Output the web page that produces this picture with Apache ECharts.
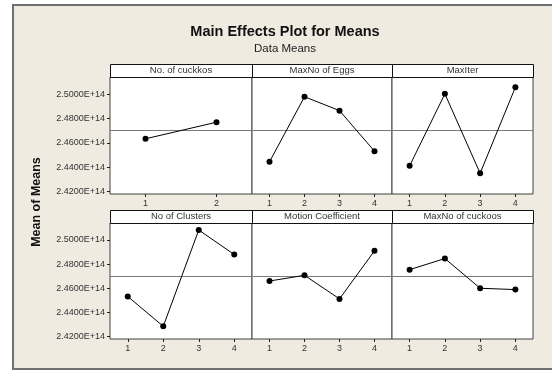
<!DOCTYPE html>
<html><head><meta charset="utf-8">
<script src="https://cdn.jsdelivr.net/npm/echarts@6/dist/echarts.min.js"></script>
<style>html,body{margin:0;padding:0;background:#fff}#c{width:552px;height:370px}</style>
</head><body><div id="c"></div>
<script>
const title = 'Main Effects Plot for Means';
const subtitle = 'Data Means';
const yName = 'Mean of Means';
const panelNames = ['No. of cuckkos','MaxNo of Eggs','MaxIter','No of Clusters','Motion Coefficient','MaxNo of cuckoos'];
const cats2 = ['1','2'];
const cats4 = ['1','2','3','4'];
const cuckkos = [2.4633e14, 2.4769e14];
const eggs = [2.4444e14, 2.4978e14, 2.4864e14, 2.4531e14];
const maxIter = [2.4411e14, 2.5002e14, 2.4350e14, 2.5056e14];
const clusters = [2.4532e14, 2.4285e14, 2.5082e14, 2.4879e14];
const motion = [2.4660e14, 2.4707e14, 2.4512e14, 2.4910e14];
const cuckoos = [2.4754e14, 2.4846e14, 2.4600e14, 2.4589e14];
const grandMean = 2.4700e14;
const yTicks = [2.42e14, 2.44e14, 2.46e14, 2.48e14, 2.50e14];
const yMin = 2.418e14, yMax = 2.514e14;

const panelData = [cuckkos, eggs, maxIter, clusters, motion, cuckoos];
const panelCats = [cats2, cats4, cats4, cats4, cats4, cats4];
const cols = [{left:110,width:142},{left:252,width:140},{left:392,width:141}];
const rows = [{top:77,height:117},{top:223,height:116}];
const FONT = '"Liberation Sans", Arial, sans-serif';

const grid=[], xAxis=[], yAxis=[], series=[], graphic=[];
graphic.push({type:'rect', shape:{x:13,y:5,width:560,height:364}, style:{fill:'#EFEBE1', stroke:'#707070', lineWidth:2}, z:-10, silent:true});
graphic.push({type:'text', x:285, y:32, style:{text:title, font:'bold 14.5px '+FONT, fill:'#111', textAlign:'center', textVerticalAlign:'middle'}});
graphic.push({type:'text', x:285, y:49, style:{text:subtitle, font:'11.5px '+FONT, fill:'#222', textAlign:'center', textVerticalAlign:'middle'}});
graphic.push({type:'text', x:37, y:202, rotation:Math.PI/2, style:{text:yName, font:'bold 12.5px '+FONT, fill:'#111', textAlign:'center', textVerticalAlign:'middle'}});

for (let i=0;i<6;i++){
  const r = rows[Math.floor(i/3)], c = cols[i%3];
  grid.push({left:c.left, top:r.top, width:c.width, height:r.height, show:true, backgroundColor:'#fff', borderColor:'#404040', borderWidth:1});
  xAxis.push({type:'category', gridIndex:i, data:panelCats[i], boundaryGap:true,
    axisLine:{show:false}, axisTick:{show:true, alignWithLabel:true, length:3, lineStyle:{color:'#222'}},
    axisLabel:{show:true, margin:5, fontSize:9, color:'#333', fontFamily:FONT}, splitLine:{show:false}});
  const first = (i%3===0);
  yAxis.push({type:'value', gridIndex:i, min:yMin, max:yMax, splitLine:{show:false}, axisLine:{show:false},
    axisTick:{show:first, length:3, customValues:yTicks, lineStyle:{color:'#222'}},
    axisLabel:{show:first, customValues:yTicks, margin:5, fontSize:9, color:'#333', fontFamily:FONT,
      formatter:v=>(v/1e14).toFixed(4)+'E+14'}});
  series.push({type:'line', xAxisIndex:i, yAxisIndex:i, data:panelData[i], symbol:'circle', symbolSize:6,
    itemStyle:{color:'#000'}, lineStyle:{color:'#000', width:1}, animation:false, z:5,
    markLine:{silent:true, symbol:'none', label:{show:false}, lineStyle:{color:'#7a7a7a', type:'solid', width:1}, data:[{yAxis:grandMean}], animation:false}});
  graphic.push({type:'rect', shape:{x:c.left+0.5, y:r.top-13+0.5, width:c.width, height:13}, style:{fill:'#fff', stroke:'#111', lineWidth:1}, z:10});
  graphic.push({type:'text', x:c.left+c.width/2, y:r.top-6.5, style:{text:panelNames[i], font:'9.5px '+FONT, fill:'#333', textAlign:'center', textVerticalAlign:'middle'}, z:11});
}

const chart = echarts.init(document.getElementById('c'), null, {renderer:'canvas'});
chart.setOption({animation:false, backgroundColor:'#fff', grid, xAxis, yAxis, series, graphic});
</script></body></html>
